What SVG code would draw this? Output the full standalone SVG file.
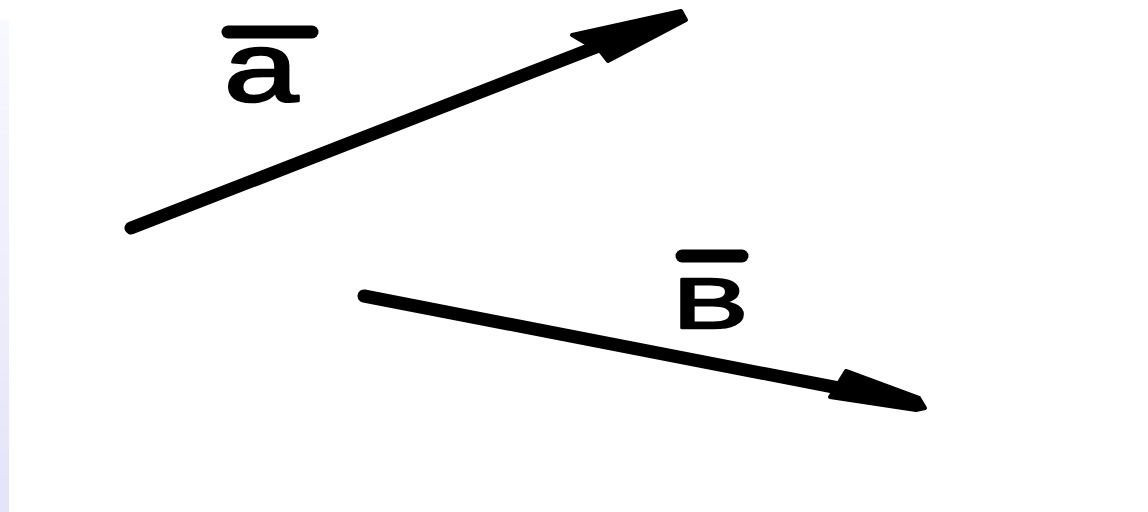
<svg xmlns="http://www.w3.org/2000/svg" width="1148" height="512" viewBox="0 0 1148 512">
<defs>
<linearGradient id="strip" x1="0" y1="0" x2="0" y2="1">
<stop offset="0" stop-color="#f8f8ff"/>
<stop offset="1" stop-color="#e4e4fa"/>
</linearGradient>
</defs>
<style>
.shaft{stroke:#000;stroke-width:13;stroke-linecap:round;fill:none}
.head{fill:#000;stroke:#000;stroke-width:4;stroke-linejoin:round}
.bar{stroke:#000;stroke-width:13;stroke-linecap:round}
.lbl{font-family:"Liberation Sans",Arial,sans-serif;fill:#000;stroke:#000;stroke-width:2.5;stroke-linejoin:round}
</style>
<rect width="1148" height="512" fill="#fff"/>
<rect x="0" y="20" width="9" height="492" fill="url(#strip)"/>
<g id="connectors">
<g id="vec-a">
<line class="shaft" x1="131" y1="228" x2="640" y2="30"/>
<polygon class="head" points="572,35 681,11 686,20 608,61 601,52"/>
</g>
<g id="vec-b">
<line class="shaft" x1="364" y1="296" x2="880" y2="396"/>
<polygon class="head" points="846,371 919,398 925,408 916,410 830,397"/>
</g>
</g>
<g id="label-a">
<line class="bar" x1="228" y1="32" x2="312" y2="32"/>
<text class="lbl" font-size="98" transform="translate(224,101) scale(1.36,1)">a</text>
</g>
<g id="label-b">
<line class="bar" x1="682" y1="256" x2="742" y2="256"/>
<text class="lbl" font-size="71" transform="translate(673,328) scale(1.58,1)">B</text>
</g>
</svg>
